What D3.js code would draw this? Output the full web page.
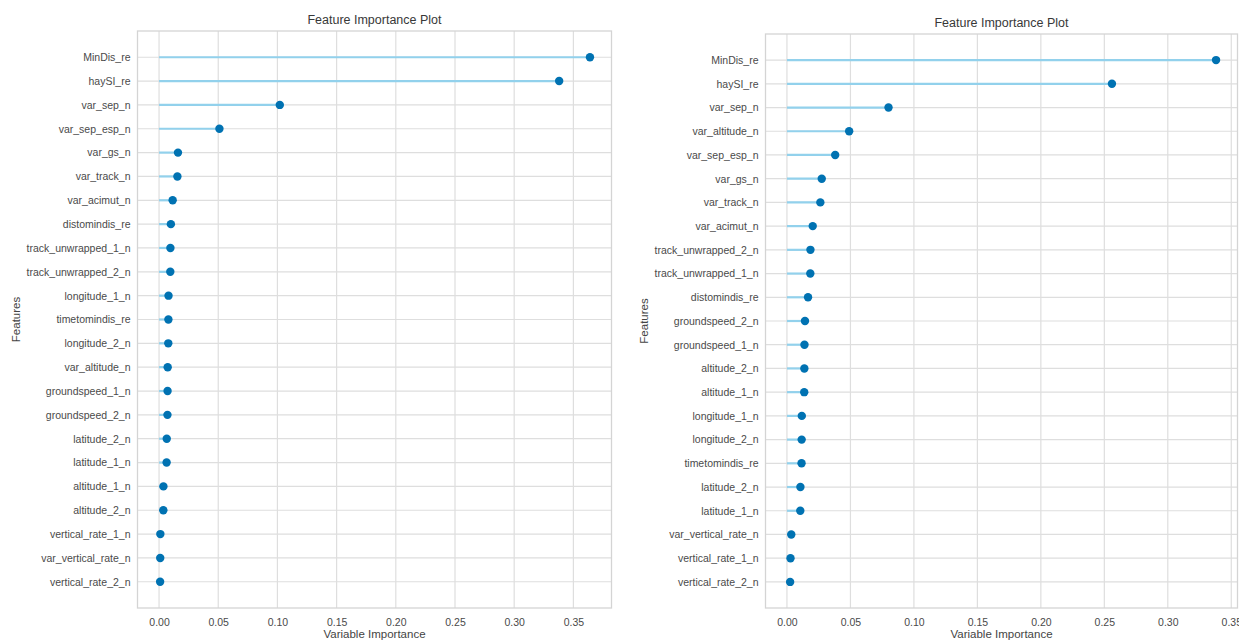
<!DOCTYPE html>
<html>
<head>
<meta charset="utf-8">
<script src="https://cdnjs.cloudflare.com/ajax/libs/d3/7.8.5/d3.min.js"></script>
<style>
  body { margin: 0; background: #fff; }
  svg { display: block; font-family: "Liberation Sans", Arial, sans-serif; }
</style>
</head>
<body>
<div class="chart"></div>
<script>
// left model, top to bottom
const leftFeatures = ['MinDis_re', 'haySI_re', 'var_sep_n', 'var_sep_esp_n', 'var_gs_n', 'var_track_n',
  'var_acimut_n', 'distomindis_re', 'track_unwrapped_1_n', 'track_unwrapped_2_n', 'longitude_1_n',
  'timetomindis_re', 'longitude_2_n', 'var_altitude_n', 'groundspeed_1_n', 'groundspeed_2_n',
  'latitude_2_n', 'latitude_1_n', 'altitude_1_n', 'altitude_2_n', 'vertical_rate_1_n',
  'var_vertical_rate_n', 'vertical_rate_2_n']
const leftValues = [0.364, 0.338, 0.102, 0.051, 0.016, 0.0155, 0.0115, 0.010, 0.0096, 0.0095, 0.008,
  0.0079, 0.0078, 0.0073, 0.0072, 0.0071, 0.0065, 0.0064, 0.0037, 0.0036, 0.0011, 0.0010, 0.0009]

// right model, top to bottom
const rightFeatures = ['MinDis_re', 'haySI_re', 'var_sep_n', 'var_altitude_n', 'var_sep_esp_n', 'var_gs_n',
  'var_track_n', 'var_acimut_n', 'track_unwrapped_2_n', 'track_unwrapped_1_n', 'distomindis_re',
  'groundspeed_2_n', 'groundspeed_1_n', 'altitude_2_n', 'altitude_1_n', 'longitude_1_n',
  'longitude_2_n', 'timetomindis_re', 'latitude_2_n', 'latitude_1_n', 'var_vertical_rate_n',
  'vertical_rate_1_n', 'vertical_rate_2_n']
const rightValues = [0.338, 0.256, 0.080, 0.049, 0.038, 0.0274, 0.0263, 0.0203, 0.0185, 0.0184, 0.0166,
  0.0142, 0.0138, 0.0137, 0.0136, 0.0117, 0.0116, 0.0115, 0.0106, 0.0105, 0.0034, 0.0028, 0.0025]

const xTicks = [0, 0.05, 0.10, 0.15, 0.20, 0.25, 0.30, 0.35]

const W = 1239, H = 640

const svg = d3.select('.chart')
  .append('svg')
    .attr('width', W)
    .attr('height', H)

// frame boxes of the two panels
drawPanel(svg, leftFeatures, leftValues, {x0: 137.5, x1: 611.5, y0: 31, y1: 608, titleY: 23.5})
drawPanel(svg, rightFeatures, rightValues, {x0: 765.5, x1: 1237.5, y0: 34, y1: 608, titleY: 26.5})

function drawPanel(svg, features, values, box) {
  const data = features.map((f, i) => ({feature: f, value: values[i]}))
  const maxV = d3.max(values)

  // matplotlib style 5% margins
  const x = d3.scaleLinear()
    .domain([-0.05 * maxV, 1.05 * maxV])
    .range([box.x0, box.x1])

  const y = d3.scalePoint()
    .domain(features)
    .range([box.y0, box.y1])
    .padding(1.1)

  const g = svg.append('g')

  // grid
  g.append('g')
    .selectAll('line')
    .data(xTicks.filter(t => x(t) <= box.x1))
    .enter()
    .append('line')
      .attr('x1', d => x(d)).attr('x2', d => x(d))
      .attr('y1', box.y0).attr('y2', box.y1)
      .style('stroke', '#dedede')
      .style('stroke-width', 1.2)

  g.append('g')
    .selectAll('line')
    .data(features)
    .enter()
    .append('line')
      .attr('x1', box.x0).attr('x2', box.x1)
      .attr('y1', d => y(d)).attr('y2', d => y(d))
      .style('stroke', '#dedede')
      .style('stroke-width', 1.2)

  // frame
  g.append('rect')
    .attr('x', box.x0).attr('y', box.y0)
    .attr('width', box.x1 - box.x0).attr('height', box.y1 - box.y0)
    .style('fill', 'none')
    .style('stroke', '#d4d4d4')
    .style('stroke-width', 1.3)

  // x axis
  const xAxis = g.append('g')
    .attr('transform', `translate(0, ${box.y1})`)
    .call(d3.axisBottom(x).tickValues(xTicks).tickFormat(d3.format('.2f')).tickSize(0).tickPadding(11))
  xAxis.select('.domain').remove()
  xAxis.selectAll('text')
    .style('font-size', '10.5px')
    .style('fill', '#4a4a4a')

  // y axis
  const yAxis = g.append('g')
    .attr('transform', `translate(${box.x0}, 0)`)
    .call(d3.axisLeft(y).tickSize(0).tickPadding(7))
  yAxis.select('.domain').remove()
  yAxis.selectAll('text')
    .style('font-size', '10.5px')
    .style('fill', '#4a4a4a')

  // stems
  g.append('g')
    .selectAll('line')
    .data(data)
    .enter()
    .append('line')
      .attr('x1', x(0))
      .attr('x2', d => x(d.value))
      .attr('y1', d => y(d.feature))
      .attr('y2', d => y(d.feature))
      .style('stroke', '#92d1ec')
      .style('stroke-width', 2.2)

  // dots
  g.append('g')
    .selectAll('circle')
    .data(data)
    .enter()
    .append('circle')
      .attr('cx', d => x(d.value))
      .attr('cy', d => y(d.feature))
      .attr('r', 4.2)
      .style('fill', '#0072B2')

  const cx = (box.x0 + box.x1) / 2
  g.append('text')
    .attr('x', cx).attr('y', box.titleY)
    .attr('text-anchor', 'middle')
    .style('font-size', '12.5px')
    .style('fill', '#383838')
    .text('Feature Importance Plot')

  g.append('text')
    .attr('x', cx).attr('y', 638)
    .attr('text-anchor', 'middle')
    .style('font-size', '11.5px')
    .style('fill', '#444')
    .text('Variable Importance')

  g.append('text')
    .attr('transform', `translate(${box.x0 - 118}, ${(box.y0 + box.y1) / 2}) rotate(-90)`)
    .attr('text-anchor', 'middle')
    .style('font-size', '11.5px')
    .style('fill', '#444')
    .text('Features')
}
</script>
</body>
</html>
